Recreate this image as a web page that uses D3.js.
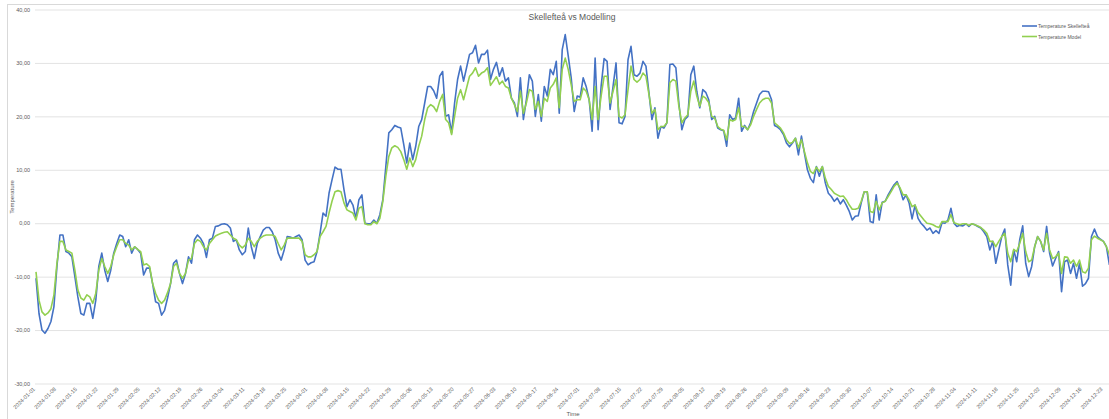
<!doctype html>
<html>
<head>
<meta charset="utf-8"/>
<title>Skellefteå vs Modelling</title>
<script src="https://cdnjs.cloudflare.com/ajax/libs/d3/7.8.5/d3.min.js"></script>
<style>
  body { margin: 0; background: #fff; }
  svg { display: block; font-family: "Liberation Sans", Arial, sans-serif; }
</style>
</head>
<body>
<svg id="chart" width="1109" height="419"></svg>
<script>
// daily values from 2024-01-01
var startDate = "2024-01-01";

var tempSkelleftea = [
  -10.3, -16.9, -20, -20.6, -19.7, -18.4, -15.6, -8.1, -2.2, -2.2,
  -5.3, -5.6, -6.3, -10, -13.8, -16.9, -17.2, -15, -15, -17.8,
  -14.4, -8.1, -5.6, -8.8, -10.9, -8.8, -5.6, -3.8, -2.2, -2.5,
  -4.4, -3.1, -5.6, -4.4, -4.9, -5.6, -9.7, -8.4, -8.4, -11.3,
  -14.7, -15, -17.2, -16.3, -14, -11.3, -7.5, -6.9, -9.4, -11.3,
  -9.4, -6.3, -7.5, -3.1, -2.2, -2.8, -3.8, -6.4, -3.1, -2.8,
  -0.6, -0.5, -0.2, -0.1, -0.3, -0.9, -3.4, -3.1, -5, -5.9,
  -5.3, -0.9, -4.4, -6.6, -3.8, -2.5, -1.3, -0.8, -0.8, -1.6,
  -3.1, -5.6, -6.9, -5, -2.5, -2.6, -2.8, -2.5, -2.2, -3.1,
  -6.9, -7.8, -7.4, -7.2, -5.3, -1.9, 1.9, 1.3, 5.6, 8.1,
  10.5, 10.1, 10.1, 6.3, 3.1, 4.4, 3.4, 0.9, 4.4, 5.3,
  0, -0.1, -0.1, 0.6, 0, 1.6, 4.4, 10.6, 16.9, 17.5,
  18.3, 18.0, 17.8, 14.7, 11.3, 15, 11.9, 14.4, 18.1, 19.4,
  22.5, 25.6, 25.6, 24.8, 23.4, 27.5, 28.4, 20, 20.3, 16.9,
  22.5, 26.9, 29.4, 26.6, 29.1, 31.6, 31.9, 33.3, 30, 31.6,
  31.6, 32.4, 26.9, 28.8, 30.1, 27.5, 29.1, 26.6, 27.2, 23.4,
  22.5, 20, 27.2, 19.4, 23.1, 27.8, 26.6, 20, 24.1, 19.1,
  25.6, 23.8, 28.8, 27.8, 30.3, 20.6, 32.5, 35.3, 31.3, 27.2,
  20.9, 23.8, 23.6, 27.2, 25.6, 23.1, 17.2, 30.9, 17.5, 25.6,
  30.8, 30.3, 21.3, 25.6, 30, 18.8, 18.6, 20, 30.6, 33.1,
  27.8, 27.5, 28.1, 30.3, 29.4, 24.4, 19.4, 21.6, 15.9, 18.1,
  17.8, 18.8, 29.7, 29.8, 29.1, 22.5, 17.5, 19.4, 20, 27.8,
  29.4, 24.7, 21.6, 25, 24.5, 23.1, 19.4, 20, 17.8, 17.5,
  17.3, 14.4, 20.3, 19.4, 19.7, 23.4, 17.2, 18.3, 17.5, 18.8,
  20.9, 22.5, 24.1, 24.7, 24.7, 24.6, 23.1, 18.3, 18, 17.5,
  16.6, 15, 14.3, 15, 15.9, 12.8, 16.3, 13.1, 10, 8.4,
  7.6, 10.6, 8.8, 10.6, 7.5, 5.6, 5, 4.1, 4.7, 3.6,
  4.4, 3.4, 2.2, 0.6, 1.3, 1.4, 3.8, 5.9, 5.9, 0.3,
  0.1, 5.3, 0.6, 3.9, 4.1, 5.3, 6.3, 7.2, 7.8, 6.3,
  4.4, 5.3, 3.8, 0.8, 3.4, 0.9, 0, -0.6, -1.3, -0.9,
  -1.9, -1.4, -1.9, 0.1, 0, 0.6, 2.8, 0, -0.6, -0.4,
  -0.5, -0.1, -0.6, -0.1, -0.3, -0.6, -0.9, -1.6, -2.5, -5,
  -3.4, -7.5, -5, -2.5, -1.1, -7.8, -11.6, -5, -7.2, -3.1,
  -0.5, -7.5, -10, -8.1, -4.4, -2.5, -3.4, -5.3, -0.6, -5.6,
  -8, -6.6, -5.3, -12.8, -7.2, -6.9, -9.4, -7.5, -10.3, -7.5,
  -11.8, -11.3, -10.3, -2.5, -1.1, -2.5, -3, -3.4, -4.4, -7.8
];

var tempModel = [
  -9.1, -14.4, -16.6, -17.2, -16.8, -16, -13.4, -7.5, -3.4, -3.4,
  -5, -5.3, -5.6, -8.8, -12.5, -14, -14.4, -13.4, -13.8, -15,
  -13.1, -8.8, -6.6, -8.1, -9.4, -8.1, -5.9, -4.4, -3.1, -3.1,
  -3.8, -4.1, -5, -4.4, -4.9, -5.3, -7.8, -7.6, -8.1, -11.3,
  -13.1, -14.4, -15, -14.4, -13, -11.3, -8.1, -7.5, -9.4, -10.3,
  -9.4, -6.9, -6.6, -3.8, -3.1, -3.4, -4.4, -5, -3.8, -3.1,
  -2.4, -2.1, -1.9, -1.7, -1.6, -2.2, -2.8, -3.1, -4.1, -4.6,
  -4.1, -2.8, -3.4, -4.4, -3.4, -2.8, -2.4, -2.2, -2.2, -2.2,
  -2.5, -3.8, -5, -4.1, -2.8, -2.8, -2.8, -2.8, -2.8, -3.4,
  -5.9, -6.3, -6.3, -5.9, -5.3, -2.5, -1.6, -0.6, 1.9, 4.1,
  5.9, 6.1, 5.9, 3.8, 2.5, 2.2, 1.9, 0.6, 2.8, 3.1,
  -0.1, -0.3, -0.3, 0.3, -0.1, 0.9, 4.1, 8.8, 12.5, 14.1,
  14.5, 14.2, 13.4, 11.9, 10.1, 12.2, 10.6, 11.9, 14.4, 16.3,
  19.4, 21.6, 22.2, 21.8, 20.9, 22.8, 24.1, 19.4, 18.8, 16.6,
  20, 23.4, 25, 23.1, 25.3, 27.5, 28.1, 29.1, 27.5, 28.1,
  28.4, 29.1, 25.8, 26.6, 27.4, 26, 26.6, 25.6, 25.3, 23.4,
  22.2, 20.9, 24.7, 20.6, 22.5, 25, 24.7, 21.3, 22.8, 20,
  23.4, 22.8, 25.3, 26, 27.2, 21.6, 28.8, 30.9, 28.8, 25.9,
  22.8, 23.1, 23.1, 25.3, 24.7, 23.1, 19.4, 25.6, 19.4, 23.8,
  27.5, 27.5, 22.5, 24.7, 26.9, 20, 19.7, 20.3, 25, 29.4,
  26.9, 26.4, 26.9, 28.1, 27.5, 24.1, 20.6, 21.3, 17.5, 18.1,
  18.1, 18.8, 26.3, 26.9, 26.6, 21.9, 18.8, 19.7, 20.3, 24.7,
  26.6, 23.8, 21.9, 23.8, 23.4, 22.6, 20, 19.7, 18.1, 17.6,
  17.4, 15.6, 19.4, 19.1, 19.4, 21.6, 18.1, 18.1, 17.5, 18.4,
  20, 21.3, 22.5, 23.1, 23.4, 23.4, 22.5, 18.8, 18.3, 17.8,
  16.9, 15.6, 14.9, 15.1, 15.9, 14.1, 15.6, 13.4, 11.3, 9.7,
  9.3, 10.5, 9.7, 10.6, 8.4, 6.9, 6.3, 5.6, 5.3, 5,
  5.1, 4.4, 3.4, 2.6, 2.6, 2.8, 4.1, 5.9, 5.9, 2.2,
  2, 4.1, 2.5, 3.8, 4.1, 5, 5.9, 6.9, 7.5, 6.6,
  5.3, 5.3, 4.4, 3.1, 3.4, 2, 1.3, 0.6, 0, -0.1,
  -0.3, -0.6, -0.8, 0.3, 0.3, 0.3, 1.6, 0.1, -0.1, -0.3,
  -0.1, -0.1, -0.4, -0.1, -0.3, -0.5, -0.8, -1.3, -1.9, -3.4,
  -3.4, -4.4, -3.4, -2.5, -1.9, -5.6, -7.2, -4.9, -5.3, -3.8,
  -1.9, -5.3, -7.2, -6.9, -4.4, -2.5, -3.4, -5, -1.9, -5,
  -6.6, -6.3, -5.6, -9.4, -6.3, -6.4, -7.5, -6.9, -8.1, -6.9,
  -9.1, -9.3, -8.4, -3.1, -2.4, -2.8, -3.1, -3.4, -4.4, -5.9
];

var yTicks = [40, 30, 20, 10, 0, -10, -20, -30];

var xTickLabels = [
  "2024-01-01", "2024-01-08", "2024-01-15", "2024-01-22", "2024-01-29",
  "2024-02-05", "2024-02-12", "2024-02-19", "2024-02-26", "2024-03-04",
  "2024-03-11", "2024-03-18", "2024-03-25", "2024-04-01", "2024-04-08",
  "2024-04-15", "2024-04-22", "2024-04-29", "2024-05-06", "2024-05-13",
  "2024-05-20", "2024-05-27", "2024-06-03", "2024-06-10", "2024-06-17",
  "2024-06-24", "2024-07-01", "2024-07-08", "2024-07-15", "2024-07-22",
  "2024-07-29", "2024-08-05", "2024-08-12", "2024-08-19", "2024-08-26",
  "2024-09-02", "2024-09-09", "2024-09-16", "2024-09-23", "2024-09-30",
  "2024-10-07", "2024-10-14", "2024-10-21", "2024-10-28", "2024-11-04",
  "2024-11-11", "2024-11-18", "2024-11-25", "2024-12-02", "2024-12-09",
  "2024-12-16", "2024-12-23"
];

var seriesNames = ["Temperature Skellefteå", "Temperature Model"];
var seriesColors = ["#4472C4", "#92D050"];

var svg = d3.select("#chart");
var parse = d3.timeParse("%Y-%m-%d");
var t0 = parse(startDate);

var plotLeft = 36, plotTop = 9.5, plotBottom = 383.5;
var xScale = d3.scaleTime()
  .domain([t0, d3.timeDay.offset(t0, 365)])
  .range([plotLeft, plotLeft + 2.99 * 365]);
var yScale = d3.scaleLinear().domain([-30, 40]).range([plotBottom, plotTop]);

var sv = d3.formatLocale({decimal: ",", thousands: " ", grouping: [3], currency: ["", " kr"], minus: "-"});

// chart frame
svg.append("rect").attr("x", 7.5).attr("y", 4.5).attr("width", 1200).attr("height", 600)
  .attr("fill", "none").attr("stroke", "#d9d9d9");

// y axis with gridlines
var yAxis = d3.axisLeft(yScale).tickValues(yTicks).tickSize(-(1109 - 35))
  .tickPadding(5).tickFormat(sv.format(".2f"));
var yG = svg.append("g").attr("transform", "translate(35,0)").call(yAxis);
yG.select(".domain").remove();
yG.selectAll("line").attr("stroke", "#e3e3e3");
yG.selectAll("text").attr("fill", "#595959").style("font-size", "5.5px");

// x axis
var xAxis = d3.axisBottom(xScale).tickValues(xTickLabels.map(parse)).tickSize(0)
  .tickFormat(d3.timeFormat("%Y-%m-%d"));
var xG = svg.append("g").attr("transform", "translate(0," + plotBottom + ")").call(xAxis);
xG.select(".domain").remove();
xG.selectAll("text")
  .attr("fill", "#595959").style("font-size", "5.5px")
  .attr("text-anchor", "end").attr("dy", null).attr("y", 0)
  .attr("transform", "translate(-1,6) rotate(-45)");

// lines
[tempSkelleftea, tempModel].forEach(function(vals, k) {
  var line = d3.line()
    .x(function(d, i) { return xScale(d3.timeDay.offset(t0, i)); })
    .y(function(d) { return yScale(d); });
  svg.append("path").datum(vals)
    .attr("d", line)
    .attr("fill", "none")
    .attr("stroke", seriesColors[k])
    .attr("stroke-width", 1.6)
    .attr("stroke-linejoin", "round");
});

// title and axis titles
svg.append("text").attr("x", 572).attr("y", 20).attr("text-anchor", "middle")
  .attr("fill", "#595959").style("font-size", "8.5px").text("Skellefteå vs Modelling");
svg.append("text").attr("transform", "translate(14,197) rotate(-90)").attr("text-anchor", "middle")
  .attr("fill", "#595959").style("font-size", "6px").text("Temperature");
svg.append("text").attr("x", 573).attr("y", 416).attr("text-anchor", "middle")
  .attr("fill", "#595959").style("font-size", "6px").text("Time");

// legend
var lg = svg.append("g").selectAll("g").data(seriesNames).enter().append("g")
  .attr("transform", function(d, i) { return "translate(1022," + (26 + i * 10.5) + ")"; });
lg.append("line").attr("x1", 0).attr("x2", 15).attr("stroke-width", 1.6)
  .attr("stroke", function(d, i) { return seriesColors[i]; });
lg.append("text").attr("x", 16).attr("y", 2).attr("fill", "#595959")
  .style("font-size", "5px").text(function(d) { return d; });
</script>
</body>
</html>
